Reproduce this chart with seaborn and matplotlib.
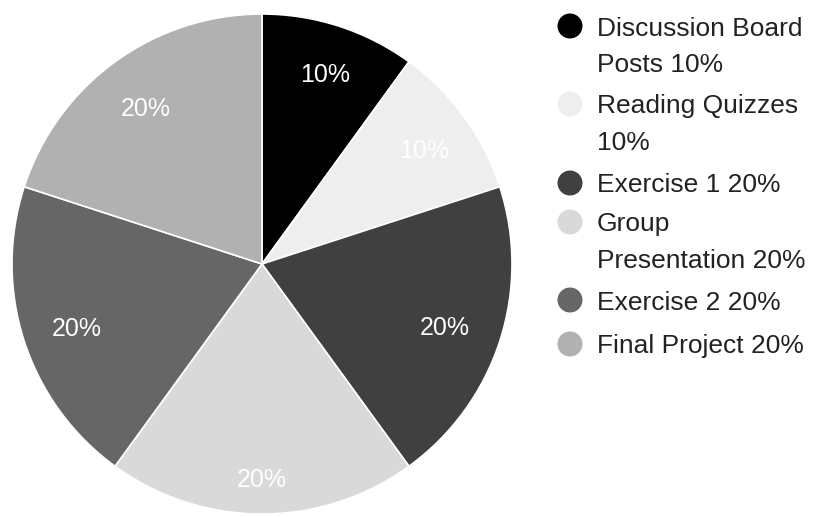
import numpy as np
import matplotlib.pyplot as plt
import seaborn as sns

# data
categories = ['Discussion Board Posts', 'Reading Quizzes', 'Exercise 1',
              'Group Presentation', 'Exercise 2', 'Final Project']
weights = [10, 10, 20, 20, 20, 20]
legend_labels = ['Discussion Board\nPosts 10%', 'Reading Quizzes\n10%', 'Exercise 1 20%',
                 'Group\nPresentation 20%', 'Exercise 2 20%', 'Final Project 20%']
colors = ['#000000', '#eeeeee', '#404040', '#d9d9d9', '#666666', '#b1b1b1']
# radial placement of the percentage labels (fraction of radius)
label_dist = [0.815, 0.80, 0.77, 0.845, 0.78, 0.79]

sns.set_theme(style='white')
plt.rcParams['font.family'] = ['Liberation Sans', 'DejaVu Sans']
palette = sns.color_palette(colors)

W, H = 815, 517
fig = plt.figure(figsize=(W / 100, H / 100), dpi=100)
fig.patch.set_facecolor('white')

# pie: centre (262, 264) px, radius 250 px
cx, cy, r = 262, 264, 250
ax = fig.add_axes([(cx - r) / W, (H - cy - r) / H, 2 * r / W, 2 * r / H])
wedges, texts, autotexts = ax.pie(
    weights, colors=palette, startangle=90, counterclock=False,
    autopct='%d%%', radius=1,
    wedgeprops=dict(edgecolor='white', linewidth=1.2),
    textprops=dict(color='white', fontsize=18))
for w, t, d in zip(wedges, autotexts, label_dist):
    mid = np.deg2rad((w.theta1 + w.theta2) / 2)
    t.set_position((d * np.cos(mid), d * np.sin(mid) - 0.02))
ax.set_xlim(-1, 1)
ax.set_ylim(-1, 1)
ax.set_aspect('equal')
ax.axis('off')

# legend drawn in pixel coordinates
lax = fig.add_axes([0, 0, 1, 1], zorder=-1)
lax.set_xlim(0, W)
lax.set_ylim(H, 0)
lax.axis('off')
first_line_y = [26, 104, 183, 222, 300, 344]
line_gap = 36
for lab, col, y in zip(legend_labels, palette, first_line_y):
    lax.scatter([570], [y], s=18 ** 2, color=col, edgecolor='none')
    for i, line in enumerate(lab.split('\n')):
        lax.text(597, y + 9.5 + i * line_gap, line, fontsize=19, color='#222222',
                 va='baseline', ha='left')

fig.savefig('out.png', dpi=100)
